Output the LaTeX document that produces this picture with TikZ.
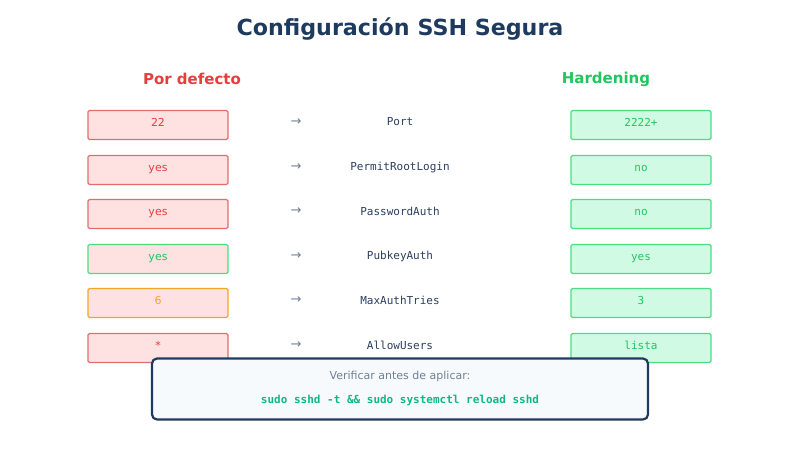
\documentclass[tikz,border=0pt]{standalone}
\usepackage{fontspec}
\setmainfont{DejaVu Sans}
\setmonofont{DejaVu Sans Mono}
\usetikzlibrary{positioning}

\definecolor{titleblue}{HTML}{1E3A5F}
\definecolor{defred}{HTML}{E53E3E}
\definecolor{defredbd}{HTML}{E26D6D}
\definecolor{defredbg}{HTML}{FEE2E2}
\definecolor{hardgreen}{HTML}{22C55E}
\definecolor{hardbd}{HTML}{4ADE80}
\definecolor{hardbg}{HTML}{D1FAE5}
\definecolor{warnorange}{HTML}{F5A524}
\definecolor{keytext}{HTML}{2A3F5F}
\definecolor{arrowgray}{HTML}{718096}
\definecolor{cmdgreen}{HTML}{10B981}
\definecolor{notebg}{HTML}{F7FAFC}

\begin{document}
\begin{tikzpicture}[
  x=1pt, y=-1pt,
  hdr/.style={font=\fontsize{15}{18}\selectfont\bfseries},
  valbox/.style={draw, rounded corners=1.5pt, line width=1.2pt, minimum width=140pt, minimum height=29pt,
    text height=7pt, text depth=4pt, inner sep=0pt},
  defbox/.style={valbox, draw=defredbd, fill=defredbg, text=defred, font=\fontsize{11}{13}\selectfont},
  hardbox/.style={valbox, draw=hardbd, fill=hardbg, text=hardgreen, font=\ttfamily\fontsize{11}{13}\selectfont},
  key/.style={text=keytext, font=\ttfamily\fontsize{11}{13}\selectfont},
  arr/.style={text=arrowgray, font=\fontsize{13}{15}\selectfont}
]
\useasboundingbox (0,0) rectangle (800,450);

\node[text=titleblue, font=\fontsize{22.2}{26}\selectfont\bfseries] (title) at (400,29) {Configuración SSH Segura};
\node[hdr, text=defred] (hdef) at (192,79) {Por defecto};
\node[hdr, text=hardgreen] (hhard) at (606,79) {Hardening};

% por defecto
\node[defbox] (d1) at (158,125) {22};
\node[defbox] (d2) at (158,170) {yes};
\node[defbox] (d3) at (158,214) {yes};
\node[defbox, draw=hardbd, text=hardgreen] (d4) at (158,259) {yes};
\node[defbox, draw=warnorange, text=warnorange] (d5) at (158,303) {6};
\node[defbox] (d6) at (158,348) {*};

% flechas
\node[arr] (a1) at (296,122) {→};
\node[arr] (a2) at (296,167) {→};
\node[arr] (a3) at (296,211) {→};
\node[arr] (a4) at (296,256) {→};
\node[arr] (a5) at (296,300) {→};
\node[arr] (a6) at (296,345) {→};

% directivas
\node[key] (k1) at (400,122) {Port};
\node[key] (k2) at (400,167) {PermitRootLogin};
\node[key] (k3) at (400,211) {PasswordAuth};
\node[key] (k4) at (400,256) {PubkeyAuth};
\node[key] (k5) at (400,300) {MaxAuthTries};
\node[key] (k6) at (400,345) {AllowUsers};

% hardening
\node[hardbox] (h1) at (641,125) {2222+};
\node[hardbox] (h2) at (641,170) {no};
\node[hardbox] (h3) at (641,214) {no};
\node[hardbox] (h4) at (641,259) {yes};
\node[hardbox] (h5) at (641,303) {3};
\node[hardbox] (h6) at (641,348) {lista};

% nota
\node[draw=titleblue, line width=2.2pt, fill=notebg, rounded corners=5pt,
  minimum width=496pt, minimum height=61pt] (note) at (400,389) {};
\node[text=arrowgray, font=\fontsize{11}{13}\selectfont] (nt) at (400,376) {Verificar antes de aplicar:};
\node[text=cmdgreen, font=\ttfamily\bfseries\fontsize{11}{13}\selectfont] (cmd) at (400,400) {sudo sshd -t \&\& sudo systemctl reload sshd};
\end{tikzpicture}
\end{document}
